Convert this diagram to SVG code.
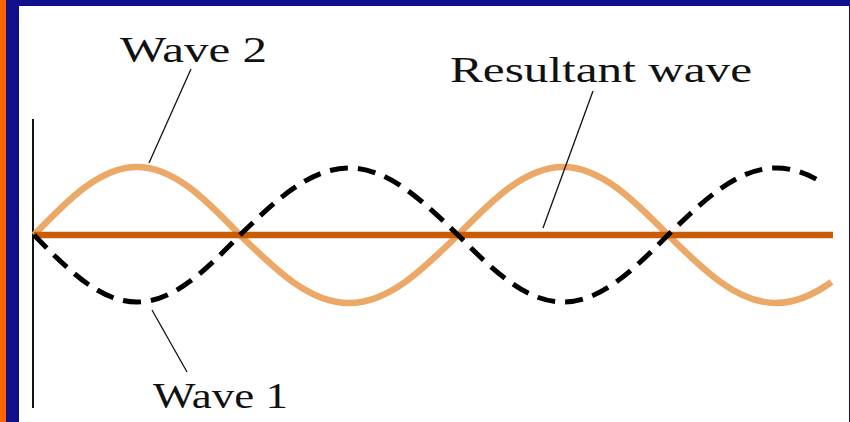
<svg xmlns="http://www.w3.org/2000/svg" width="850" height="422" viewBox="0 0 850 422">
  <style>
    .lbl { font-family: "Liberation Serif", "Times New Roman", serif; font-size: 36px; fill: #111; }
    .leader { stroke: #111; stroke-width: 1.3; fill: none; }
    .w2 { stroke: #eba866; stroke-width: 6.5; fill: none; }
    .w1 { stroke: #000; stroke-width: 5; fill: none; stroke-dasharray: 18 10; }
    .res { stroke: #c85c04; stroke-width: 6.5; fill: none; }
  </style>
  <g id="frame">
    <rect x="0" y="0" width="850" height="422" fill="#10108a"/>
    <rect x="0" y="0" width="6" height="422" fill="#ff6600"/>
    <rect x="19" y="6" width="830" height="416" fill="#ffffff"/>
  </g>
  <g id="axis">
    <line x1="33" y1="119" x2="33" y2="408" stroke="#111" stroke-width="2"/>
  </g>
  <g id="wave2">
    <path class="w2" d="M34,235 C67.6,200.2 99.7,167 137,167 C174.3,167 206.4,200.2 240,235 C275.5,269.8 309.6,303 349,303 C388.4,303 422.5,269.8 458,235 C492.2,200.2 525,167 563,167 C601,167 633.8,200.2 668,235 C703.2,269.8 736.9,303 776,303 C795.55,303 813.75,294.7 831.5,282"/>
  </g>
  <g id="resultant">
    <line class="res" x1="34" y1="235" x2="833" y2="235"/>
  </g>
  <g id="wave1">
    <path class="w1" d="M34,235 C67.6,269.3 99.7,302 137,302 C174.3,302 206.4,269.3 240,235 C275.5,200.7 309.6,168 349,168 C388.4,168 422.5,200.7 458,235 C492.2,269.3 525,302 563,302 C601,302 633.8,269.3 668,235 C703.2,200.7 736.9,168 776,168 C791.6,168 806.4,173.2 820.8,181.7"/>
  </g>
  <g id="connectors">
    <line class="leader" x1="191" y1="69" x2="149" y2="163"/>
    <line class="leader" x1="593" y1="91" x2="543" y2="228"/>
    <line class="leader" x1="152" y1="310" x2="187" y2="372"/>
  </g>
  <g id="label-wave2">
    <text class="lbl" x="120" y="62" textLength="147" lengthAdjust="spacingAndGlyphs">Wave 2</text>
  </g>
  <g id="label-resultant">
    <text class="lbl" x="450" y="82" textLength="302" lengthAdjust="spacingAndGlyphs">Resultant wave</text>
  </g>
  <g id="label-wave1">
    <text class="lbl" x="153" y="408" textLength="135" lengthAdjust="spacingAndGlyphs">Wave 1</text>
  </g>
</svg>
